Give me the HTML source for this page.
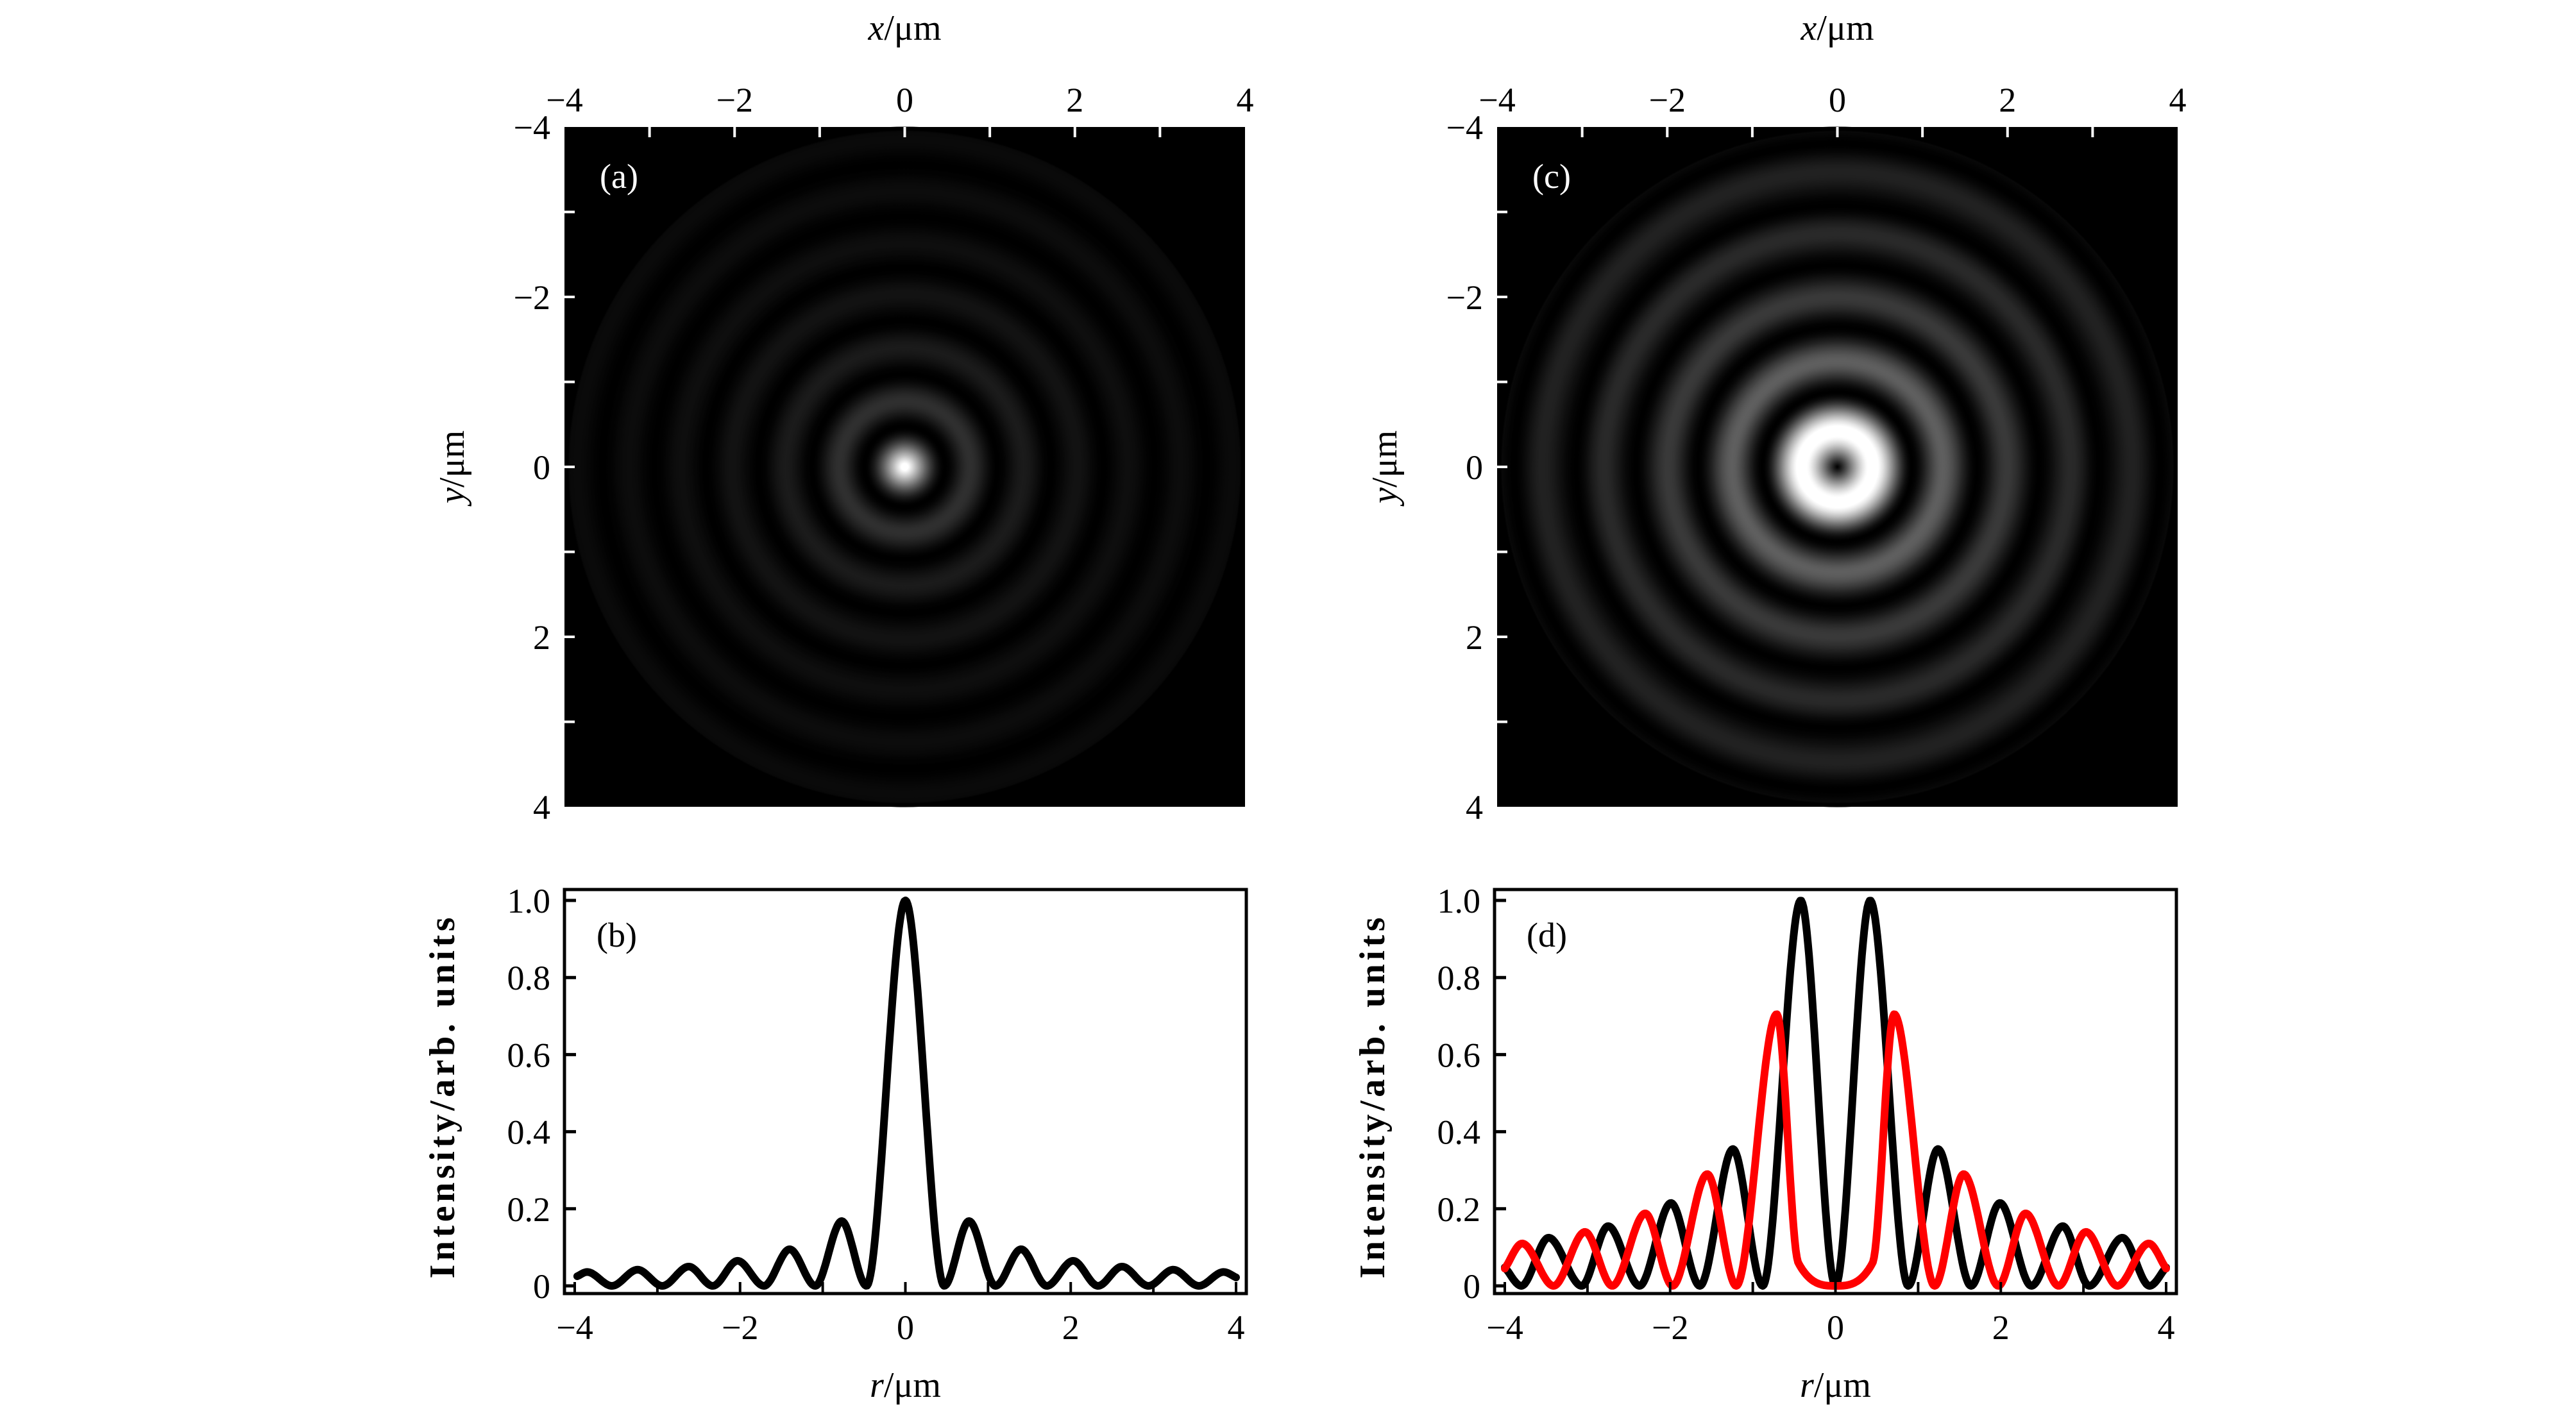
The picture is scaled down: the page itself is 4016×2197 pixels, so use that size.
<!DOCTYPE html>
<html><head><meta charset="utf-8"><style>
html,body{margin:0;padding:0;background:#fff;}
svg{display:block;}
text{font-family:"Liberation Serif",serif;fill:#000;}
</style></head><body>
<svg id="fig" width="4016" height="2197" viewBox="0 0 4016 2197" xmlns="http://www.w3.org/2000/svg">
<defs id="defs"></defs>
<g id="root"></g>
</svg>
<script>
// ---- data ----
const airyR = [-3.97,-3.85,-3.55,-3.24,-2.94,-2.62,-2.33,-2.03,-1.71,-1.40,-1.09,-0.77,-0.47,0,0.47,0.77,1.09,1.40,1.71,2.03,2.33,2.62,2.94,3.24,3.55,3.85,4.0];
const airyI = [0.025,0.036,0,0.042,0,0.05,0,0.065,0,0.095,0,0.168,0,1.0,0,0.168,0,0.095,0,0.065,0,0.05,0,0.042,0,0.036,0.022];
const donutR = [-4,-3.8,-3.47,-3.07,-2.75,-2.37,-1.99,-1.64,-1.24,-0.88,-0.42,0,0.42,0.88,1.24,1.64,1.99,2.37,2.75,3.07,3.47,3.8,4];
const donutI = [0.048,0,0.125,0,0.155,0,0.215,0,0.355,0,1.0,0,1.0,0,0.355,0,0.215,0,0.155,0,0.125,0,0.048];
const redR = [-4,-3.79,-3.41,-3.03,-2.7,-2.3,-1.97,-1.55,-1.2,-0.71,-0.45,0,0.45,0.71,1.2,1.55,1.97,2.3,2.7,3.03,3.41,3.79,4];
const redI = [0.045,0.11,0,0.14,0,0.188,0,0.29,0,0.705,0.06,0,0.06,0.705,0,0.29,0,0.188,0,0.14,0,0.11,0.045];
const imgTicks = [-4,-2,0,2,4];
const imgTickLabels = ["\u22124","\u22122","0","2","4"];
const yTicks = [0,0.2,0.4,0.6,0.8,1.0];
const yTickLabels = ["0","0.2","0.4","0.6","0.8","1.0"];
const xTicks = [-4,-2,0,2,4];
const xTickLabels = ["\u22124","\u22122","0","2","4"];

const NS="http://www.w3.org/2000/svg";
const root=document.getElementById('root');
const defs=document.getElementById('defs');
function mk(tag,attrs,parent){const e=document.createElementNS(NS,tag);for(const k in attrs)e.setAttribute(k,attrs[k]);(parent||root).appendChild(e);return e;}

// monotone cubic interpolation
function interp(X,Y){
  const n=X.length,d=[],m=[];
  for(let i=0;i<n-1;i++)d.push((Y[i+1]-Y[i])/(X[i+1]-X[i]));
  m[0]=d[0];m[n-1]=d[n-2];
  for(let i=1;i<n-1;i++){ if(d[i-1]*d[i]<=0)m[i]=0; else { m[i]=(d[i-1]+d[i])/2; const a=m[i]/d[i-1],b=m[i]/d[i],s=a*a+b*b; if(s>9){const t=3/Math.sqrt(s);m[i]=t*a*d[i-1];} } }
  return function(x){
    if(x<=X[0])return Y[0]; if(x>=X[n-1])return Y[n-1];
    let i=0;while(x>X[i+1])i++;
    const h=X[i+1]-X[i],t=(x-X[i])/h,t2=t*t,t3=t2*t;
    return (2*t3-3*t2+1)*Y[i]+(t3-2*t2+t)*h*m[i]+(-2*t3+3*t2)*Y[i+1]+(t3-t2)*h*m[i+1];
  };
}

// ---------- images (a),(c) ----------
function imagePanel(x0,label,R,I,id,gain){
  const y0=198,W=1061,H=1060;
  const sx=v=>x0+(v+4)/8*W, sy=v=>y0+(v+4)/8*H;
  const f=interp(R,I);
  const g=mk('radialGradient',{id:id,gradientUnits:'userSpaceOnUse',cx:sx(0),cy:sy(0),r:W/2},defs);
  for(let k=0;k<=200;k++){const r=k/200*4;let v=Math.max(0,Math.min(1,gain*f(r)));if(k>=198)v=0;const c=Math.round(v*255);
    mk('stop',{offset:(k/200).toFixed(4),'stop-color':`rgb(${c},${c},${c})`},g);}
  const bg=mk('rect',{x:x0,y:y0,width:W,height:H,fill:'#000'});
  
  
  const rect=mk('circle',{cx:sx(0),cy:sy(0),r:W/2,fill:`url(#${id})`});
  
  
  for(let v=-3;v<=3;v++){
    const t=mk('line',{x1:sx(v),x2:sx(v),y1:y0,y2:y0+16,stroke:'#fff','stroke-width':4});
    
    const u=mk('line',{x1:x0,x2:x0+16,y1:sy(v),y2:sy(v),stroke:'#fff','stroke-width':4});
    
  }
  imgTicks.forEach((v,i)=>{
    const a=mk('text',{x:sx(v),y:174,'font-size':54,'text-anchor':'middle'});a.textContent=imgTickLabels[i];
    
    const b=mk('text',{x:x0-22,y:sy(v)+19,'font-size':54,'text-anchor':'end'});b.textContent=imgTickLabels[i];
    
  });
  const xt=mk('text',{x:x0+W/2,y:62,'font-size':56,'text-anchor':'middle'});
  xt.innerHTML='<tspan font-style="italic">x</tspan>/μm';
  
  const yx=x0-175, yy=y0+H/2;
  const yt=mk('text',{x:yx,y:yy,'font-size':56,'text-anchor':'middle',transform:`rotate(-90 ${yx} ${yy})`,dy:18});
  yt.innerHTML='<tspan font-style="italic">y</tspan>/μm';
  
  const pl=mk('text',{x:x0+55,y:293,'font-size':54,style:'fill:#fff'});pl.textContent='('+label+')';
  
}
imagePanel(880,'a',airyR.slice(13),airyI.slice(13),'gA',1.1);
imagePanel(2334,'c',donutR.slice(11),donutI.slice(11),'gC',1.05);

// ---------- line plots (b),(d) ----------
function linePanel(bx,label,series){
  const by=1387,bw=1063,bh=630;
  const sx=v=>bx+16+(v+4)/8*1031, sy=v=>2005-v*601;
  series.forEach(s=>{
    const f=interp(s.R,s.I);let d='';
    const a=s.R[0],b=s.R[s.R.length-1];
    for(let k=0;k<=600;k++){const x=a+(b-a)*k/600;d+=(k?'L':'M')+sx(x).toFixed(1)+','+sy(f(x)).toFixed(1);}
    const p=mk('path',{d:d,fill:'none',stroke:s.color,'stroke-width':12,'stroke-linejoin':'round','stroke-linecap':'round'});
    
  });
  const box=mk('rect',{x:bx,y:by,width:bw,height:bh,fill:'none',stroke:'#000','stroke-width':5});
  
  yTicks.forEach((v,i)=>{
    const t=mk('line',{x1:bx,x2:bx+18,y1:sy(v),y2:sy(v),stroke:'#000','stroke-width':5});
    
    const l=mk('text',{x:bx-22,y:sy(v)+19,'font-size':54,'text-anchor':'end'});l.textContent=yTickLabels[i];
    
  });
  for(let v=-4;v<=4;v++){
    const t=mk('line',{x1:sx(v),x2:sx(v),y1:by+bh,y2:by+bh-18,stroke:'#000','stroke-width':4});
    
  }
  xTicks.forEach((v,i)=>{
    const l=mk('text',{x:sx(v),y:2088,'font-size':54,'text-anchor':'middle'});l.textContent=xTickLabels[i];
    
  });
  const xt=mk('text',{x:bx+bw/2,y:2178,'font-size':56,'text-anchor':'middle'});
  xt.innerHTML='<tspan font-style="italic">r</tspan>/μm';
  
  const yx=bx-190,yy=1712;
  const yt=mk('text',{x:yx,y:yy,'font-size':56,'font-weight':'bold','text-anchor':'middle',dy:18,textLength:563,lengthAdjust:'spacing',transform:`rotate(-90 ${yx} ${yy})`});
  yt.textContent='Intensity/arb. units';
  
  const pl=mk('text',{x:bx+50,y:1476,'font-size':54});pl.textContent='('+label+')';
  
}
linePanel(880,'b',[{R:airyR,I:airyI,color:'#000',name:'airy-profile-line'}]);
linePanel(2330,'d',[{R:donutR,I:donutI,color:'#000',name:'black-profile-line'},{R:redR,I:redI,color:'#f00',name:'red-profile-line'}]);
</script>
</body></html>
